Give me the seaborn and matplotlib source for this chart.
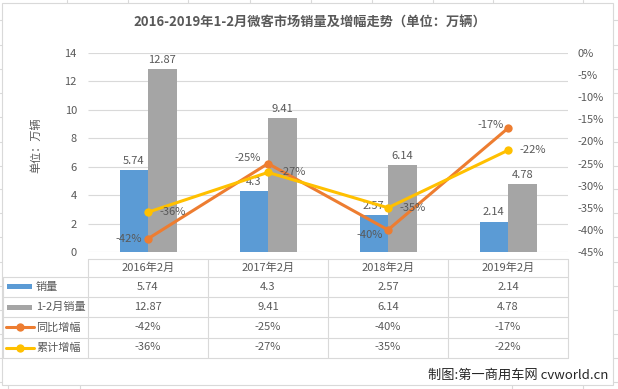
import numpy as np
import pandas as pd
import seaborn as sns
import matplotlib.pyplot as plt
import matplotlib.transforms as mtransforms
from matplotlib.lines import Line2D
from matplotlib.patches import Rectangle

# chart data
months = ['2016年2月', '2017年2月', '2018年2月', '2019年2月']
sales = [5.74, 4.3, 2.57, 2.14]
sales_ytd = [12.87, 9.41, 6.14, 4.78]
yoy_growth = [-0.42, -0.25, -0.40, -0.17]
ytd_growth = [-0.36, -0.27, -0.35, -0.22]
series_names = ['销量', '1-2月销量', '同比增幅', '累计增幅']
title = '2016-2019年1-2月微客市场销量及增幅走势（单位：万辆）'
source = '制图:第一商用车网 cvworld.cn'

BLUE = '#5B9BD5'
GRAY = '#A5A5A5'
ORANGE = '#ED7D31'
YELLOW = '#FFC000'
TXT = '#595959'
LINE = '#D9D9D9'

sns.set_theme(style='white')
plt.rcParams['font.family'] = ['Noto Sans CJK SC', 'DejaVu Sans']
plt.rcParams['ytick.major.size'] = 0
plt.rcParams['xtick.major.size'] = 0

W, H = 618, 389
fig = plt.figure(figsize=(W / 100, H / 100), dpi=100)
fig.patch.set_facecolor('white')


def fx(px):
    return px / W


def fy(py):
    return 1 - py / H


ax = fig.add_axes([fx(88), fy(252), fx(568) - fx(88), fy(53) - fy(252)])

# bars
df = pd.DataFrame({
    'month': months * 2,
    'value': sales + sales_ytd,
    'series': [series_names[0]] * 4 + [series_names[1]] * 4,
})
sns.barplot(data=df, x='month', y='value', hue='series', palette=[BLUE, GRAY],
            width=0.475, saturation=1, legend=False, linewidth=0, ax=ax)
for cont in ax.containers:
    ax.bar_label(cont, labels=[f'{b.get_height():g}' for b in cont],
                 padding=3, fontsize=8, color=TXT)

ax.set_xlim(-0.5, 3.5)
ax.set_ylim(0, 14)
yt = list(range(0, 15, 2))
ax.set_yticks(yt)
ax.grid(False)
ax.hlines(yt, -0.5, 3.5, colors=LINE, lw=0.8, zorder=0)
ax.tick_params(axis='both', which='both', length=0)
ax.tick_params(axis='x', labelbottom=False)
ax.tick_params(axis='y', labelsize=8, labelcolor=TXT, pad=8)
ax.set_xlabel('')
ax.set_ylabel('')
for s in ax.spines.values():
    s.set_visible(False)

# lines on secondary axis
ax2 = ax.twinx()
x = np.arange(len(months))
sns.lineplot(x=x, y=yoy_growth, ax=ax2, color=ORANGE, marker='o',
             markersize=6, markeredgewidth=0, linewidth=2.2)
sns.lineplot(x=x, y=ytd_growth, ax=ax2, color=YELLOW, marker='o',
             markersize=6, markeredgewidth=0, linewidth=2.2)
ax2.set_ylim(-0.45, 0)
ticks = np.arange(-0.45, 0.001, 0.05)
ax2.set_yticks(ticks)
ax2.set_yticklabels([f'{int(round(t * 100))}%' for t in ticks])
ax2.tick_params(axis='both', which='both', length=0)
ax2.tick_params(axis='y', labelsize=8, labelcolor=TXT, pad=7)
ax2.grid(False)
for s in ax2.spines.values():
    s.set_visible(False)
for a in (ax, ax2):
    for t in a.yaxis.get_major_ticks() + a.xaxis.get_major_ticks():
        t.tick1line.set_visible(False)
        t.tick2line.set_visible(False)
        t.gridline.set_visible(False)

orange_offsets = [(-4, 0), (-5, 4), (-4, -4), (-3, 2)]
for i, v in enumerate(yoy_growth):
    ax2.annotate(f'{int(round(v * 100))}%', (i, v), xytext=orange_offsets[i],
                 textcoords='offset points', ha='right', va='center',
                 fontsize=8, color=TXT)
for i, v in enumerate(ytd_growth):
    ax2.annotate(f'{int(round(v * 100))}%', (i, v), xytext=(8, 0),
                 textcoords='offset points', ha='left', va='center',
                 fontsize=8, color=TXT)

# data table below the plot
tr = mtransforms.blended_transform_factory(ax.transData, fig.transFigure)
row_lines = [259, 276.5, 297, 317, 337.5, 357.5]
fig.add_artist(Line2D([fx(88), fx(568)], [fy(row_lines[0])] * 2,
                      transform=fig.transFigure, color=LINE, lw=0.8))
for yl in row_lines[1:]:
    fig.add_artist(Line2D([fx(3), fx(568)], [fy(yl)] * 2,
                          transform=fig.transFigure, color=LINE, lw=0.8))
fig.add_artist(Line2D([fx(3), fx(3)], [fy(276.5), fy(357.5)],
                      transform=fig.transFigure, color=LINE, lw=0.8))
for i in range(len(months) + 1):
    fig.add_artist(Line2D([i - 0.5, i - 0.5], [fy(259), fy(357.5)],
                          transform=tr, color=LINE, lw=0.8))

header_y = (row_lines[0] + row_lines[1]) / 2
row_y = [(row_lines[k] + row_lines[k + 1]) / 2 for k in range(1, 5)]
for i, m in enumerate(months):
    fig.text(i, fy(header_y), m, transform=tr, ha='center', va='center',
             fontsize=8, color=TXT)

table_rows = [
    [f'{v:g}' for v in sales],
    [f'{v:g}' for v in sales_ytd],
    [f'{int(round(v * 100))}%' for v in yoy_growth],
    [f'{int(round(v * 100))}%' for v in ytd_growth],
]
for r, vals in enumerate(table_rows):
    for i, t in enumerate(vals):
        fig.text(i, fy(row_y[r]), t, transform=tr, ha='center', va='center',
                 fontsize=8, color=TXT)

# legend keys in the first column
for r, c in enumerate([BLUE, GRAY]):
    fig.add_artist(Rectangle((fx(7), fy(row_y[r]) - 2.5 / H), fx(25), 5 / H,
                             transform=fig.transFigure, color=c, lw=0))
for r, c in zip([2, 3], [ORANGE, YELLOW]):
    fig.add_artist(Line2D([fx(6), fx(34)], [fy(row_y[r])] * 2,
                          transform=fig.transFigure, color=c, lw=2.2))
    fig.add_artist(Line2D([fx(20)], [fy(row_y[r])], marker='o', markersize=6,
                          markeredgewidth=0, transform=fig.transFigure, color=c))
for r, name in enumerate(series_names):
    fig.text(fx(36), fy(row_y[r]), name, ha='left', va='center',
             fontsize=8, color=TXT)

# titles and notes
fig.text(fx(310), fy(23), title, ha='center', va='center', fontsize=9.5,
         weight='bold', color=TXT)
fig.text(fx(36), fy(145), '单位：万辆', rotation=90, ha='center', va='center',
         fontsize=8, color=TXT)
fig.text(fx(608), fy(375), source, ha='right', va='center', fontsize=9.5,
         color='#262626')

# chart area border and the sheet's cell lines around it
fig.add_artist(Rectangle((fx(2), fy(385)), fx(613) - fx(2), fy(3) - fy(385),
                         transform=fig.transFigure, fill=False,
                         edgecolor=LINE, lw=0.8))
for xs in [67, 128, 188, 250, 311, 372, 433, 493, 583]:
    fig.add_artist(Line2D([fx(xs)] * 2, [fy(0), fy(3)],
                          transform=fig.transFigure, color=LINE, lw=0.8))
for xs in [8, 80, 512, 583]:
    fig.add_artist(Line2D([fx(xs)] * 2, [fy(385), fy(389)],
                          transform=fig.transFigure, color=LINE, lw=0.8))
for ys in [20, 45, 69, 93, 117, 142, 166, 189, 213, 237, 262, 286, 310, 334, 358, 382]:
    fig.add_artist(Line2D([fx(613), fx(618)], [fy(ys)] * 2,
                          transform=fig.transFigure, color=LINE, lw=0.8))
    fig.add_artist(Line2D([fx(0), fx(2)], [fy(ys)] * 2,
                          transform=fig.transFigure, color=LINE, lw=0.8))

fig.savefig('out.png', dpi=100)
